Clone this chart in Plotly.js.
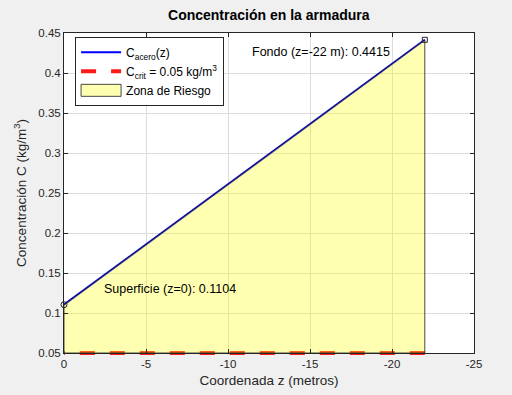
<!DOCTYPE html>
<html><head><meta charset="utf-8">
<script src="https://cdn.plot.ly/plotly-3.0.1.min.js"></script>
<style>body{margin:0;background:#f0f0f0}</style>
</head><body>
<div id="plot" style="width:512px;height:395px"></div>
<script>
const zVals = [0, -22];
const cVals = [0.1104, 0.4415];
const cCrit = 0.05;
const xTicks = [0, -5, -10, -15, -20, -25];
const yTicks = [0.05, 0.1, 0.15, 0.2, 0.25, 0.3, 0.35, 0.4, 0.45];
const yTickText = ['0.05','0.1','0.15','0.2','0.25','0.3','0.35','0.4','0.45'];

const FONT = 'Liberation Sans, Arial, sans-serif';

const lineTrace = {
  x: zVals, y: cVals, type: 'scatter', mode: 'lines',
  line: {color: '#0000ff', width: 2},
  name: 'C<sub>acero</sub>(z)', legendrank: 1
};
const critTrace = {
  x: [zVals[1], zVals[0]], y: [cCrit, cCrit],
  type: 'scatter', mode: 'lines', cliponaxis: false,
  line: {color: '#ff1a1a', width: 4, dash: '15px,15px'},
  name: 'C<sub>crit</sub> = 0.05 kg/m<sup>3</sup>', legendrank: 2
};
const fillTrace = {
  x: [zVals[0], zVals[1], zVals[1], zVals[0], zVals[0]],
  y: [cVals[0], cVals[1], cCrit, cCrit, cVals[0]],
  type: 'scatter', mode: 'lines', fill: 'toself',
  fillcolor: 'rgba(255,255,0,0.3)',
  line: {color: '#1a1a1a', width: 0.8},
  name: 'Zona de Riesgo', legendrank: 3, hoverinfo: 'skip'
};
const markTrace0 = {
  x: [zVals[0]], y: [cVals[0]], type: 'scatter', mode: 'markers', cliponaxis: false,
  marker: {symbol: 'circle-open', size: 6, color: '#222', line: {width: 1}},
  showlegend: false
};
const markTrace1 = {
  x: [zVals[1]], y: [cVals[1]], type: 'scatter', mode: 'markers', cliponaxis: false,
  marker: {symbol: 'square-open', size: 5, color: '#222', line: {width: 1}},
  showlegend: false
};

const axisCommon = {
  showline: true, linecolor: '#262626', linewidth: 1, mirror: 'ticks',
  ticks: 'inside', ticklen: 4, tickcolor: '#262626',
  showgrid: true, gridcolor: '#dcdcdc', zeroline: false,
  tickfont: {family: FONT, size: 11.5, color: '#262626'}
};

const layout = {
  width: 512, height: 395,
  paper_bgcolor: '#f0f0f0', plot_bgcolor: '#ffffff',
  margin: {l: 64, r: 38, t: 33, b: 42},
  title: {text: '<b>Concentración en la armadura</b>', x: 0.525, xanchor: 'center', y: 0.962, yanchor: 'middle',
    font: {family: FONT, size: 14, color: '#000'}},
  xaxis: Object.assign({}, axisCommon, {
    range: [0, -25], tickvals: xTicks, ticktext: xTicks.map(String),
    title: {text: 'Coordenada z (metros)', standoff: 6,
      font: {family: FONT, size: 13.5, color: '#262626'}}
  }),
  yaxis: Object.assign({}, axisCommon, {
    range: [0.05, 0.45], tickvals: yTicks, ticktext: yTickText,
    title: {text: 'Concentración C (kg/m<sup>3</sup>)', standoff: 8,
      font: {family: FONT, size: 13.5, color: '#262626'}}
  }),
  legend: {x: 0.027, y: 0.988, xanchor: 'left', yanchor: 'top',
    bgcolor: '#ffffff', bordercolor: '#262626', borderwidth: 1,
    font: {family: FONT, size: 12, color: '#000'},
    tracegroupgap: 0, itemwidth: 40},
  annotations: [
    {x: -20, y: 0.4265, xref: 'x', yref: 'y', xanchor: 'right', yanchor: 'middle', showarrow: false,
      text: 'Fondo (z=-22 m): 0.4415', font: {family: FONT, size: 12.5, color: '#000'}},
    {x: -2.3, y: 0.1304, xref: 'x', yref: 'y', xanchor: 'left', yanchor: 'middle', showarrow: false,
      text: 'Superficie (z=0): 0.1104', font: {family: FONT, size: 12.5, color: '#000'}}
  ],
  showlegend: true
};

Plotly.newPlot('plot', [lineTrace, critTrace, fillTrace, markTrace0, markTrace1], layout, {displayModeBar: false, staticPlot: true}).then(function(gd){
  // all traces lie inside the axes box; do not clip the thick dashed line at the bottom edge
  gd.querySelectorAll('.cartesianlayer [clip-path]').forEach(function(el){ el.removeAttribute('clip-path'); });
  gd.querySelectorAll('.cartesianlayer .plot *').forEach(function(el){ if (el.style && el.style.clipPath) el.style.clipPath = ''; });
  // make the fill legend swatch a full rectangle like the reference
  gd.querySelectorAll('.legend .legendfill path').forEach(function(p){
    if (p.getAttribute('d')) {
      p.setAttribute('d', 'M5,-6h40v12h-40z');
      p.style.stroke = '#1a1a1a';
      p.style.strokeWidth = '0.8px';
      p.style.fill = 'rgb(255,255,178)';
      p.style.fillOpacity = '1';
    }
  });
  gd.querySelectorAll('.legend .legendlines path').forEach(function(p){
    const tr = p.closest('.traces');
    if (tr && tr.textContent.indexOf('Zona') >= 0) p.style.display = 'none';
  });
});
</script>
</body></html>
